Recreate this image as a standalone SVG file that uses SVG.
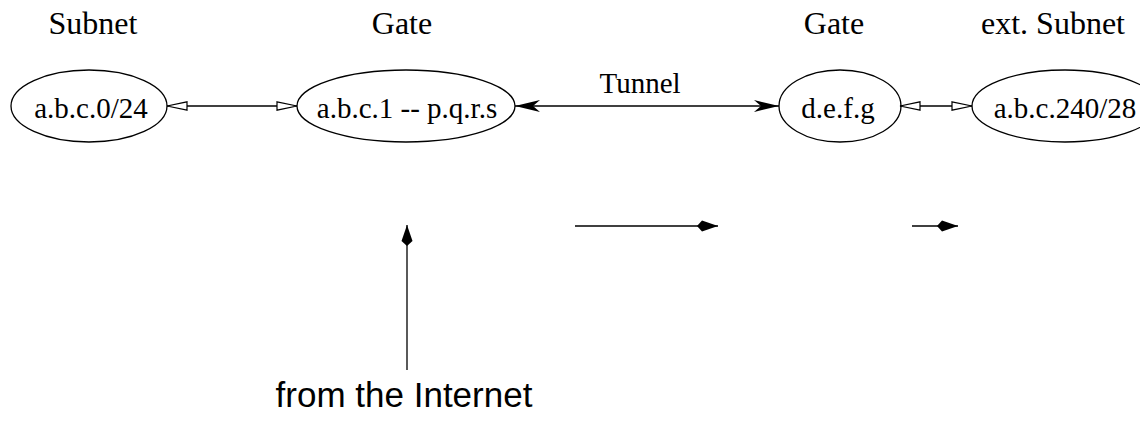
<svg xmlns="http://www.w3.org/2000/svg" width="1140" height="422" viewBox="0 0 1140 422">
<style>
.node ellipse{fill:none;stroke:#000;stroke-width:1.3}
.lbl{font-family:"Liberation Serif","Times New Roman",serif;font-size:29px;fill:#000;text-anchor:middle}
.head{font-family:"Liberation Serif","Times New Roman",serif;font-size:32px;fill:#000;text-anchor:middle}
.sans{font-family:"Liberation Sans",Arial,sans-serif;font-size:35px;fill:#000;text-anchor:middle}
.edge{fill:none;stroke:#000;stroke-width:1.3}
</style>
<defs>
<marker id="hollow" markerUnits="userSpaceOnUse" orient="auto-start-reverse" refX="20" refY="5" markerWidth="22" markerHeight="10" overflow="visible">
<path d="M0,0.8 L20,5 L0,9.2 Z" fill="#fff" stroke="#000" stroke-width="1.2"/>
</marker>
<marker id="vee" markerUnits="userSpaceOnUse" orient="auto-start-reverse" refX="25" refY="6" markerWidth="26" markerHeight="12" overflow="visible">
<path d="M0,0 L25,6 L0,12 L7,6 Z" fill="#000"/>
</marker>
<marker id="kite" markerUnits="userSpaceOnUse" orient="auto" refX="21" refY="6" markerWidth="21" markerHeight="12" overflow="visible">
<path d="M0,6 L5,0.5 L21,6 L5,11.5 Z" fill="#000"/>
</marker>
</defs>
<g id="titles">
<text class="head" x="93" y="34">Subnet</text>
<text class="head" x="402" y="34">Gate</text>
<text class="head" x="834" y="34">Gate</text>
<text class="head" x="1053" y="34">ext. Subnet</text>
</g>
<g id="connectors">
<path class="edge" d="M167,106 L297,106" marker-start="url(#hollow)" marker-end="url(#hollow)"/>
<path class="edge" d="M515,106 L779,106" marker-start="url(#vee)" marker-end="url(#vee)"/>
<text class="lbl" x="640" y="93">Tunnel</text>
<path class="edge" d="M900,106 L972,106" marker-start="url(#hollow)" marker-end="url(#hollow)"/>
<path class="edge" d="M407,370 L407,225" marker-end="url(#kite)"/>
<path class="edge" d="M575,226 L718,226" marker-end="url(#kite)"/>
<path class="edge" d="M912,226 L958,226" marker-end="url(#kite)"/>
</g>
<g id="subnet" class="node">
<ellipse cx="89" cy="106" rx="78" ry="36"/>
<text class="lbl" x="91" y="118">a.b.c.0/24</text>
</g>
<g id="gate1" class="node">
<ellipse cx="406" cy="106" rx="109" ry="36"/>
<text class="lbl" x="407" y="118">a.b.c.1 -- p.q.r.s</text>
</g>
<g id="gate2" class="node">
<ellipse cx="840" cy="106" rx="61" ry="36"/>
<text class="lbl" x="838" y="118">d.e.f.g</text>
</g>
<g id="extsubnet" class="node">
<ellipse cx="1065" cy="106" rx="93" ry="36"/>
<text class="lbl" x="1065" y="118">a.b.c.240/28</text>
</g>
<g id="internet">
<text class="sans" x="404" y="407">from the Internet</text>
</g>
</svg>
